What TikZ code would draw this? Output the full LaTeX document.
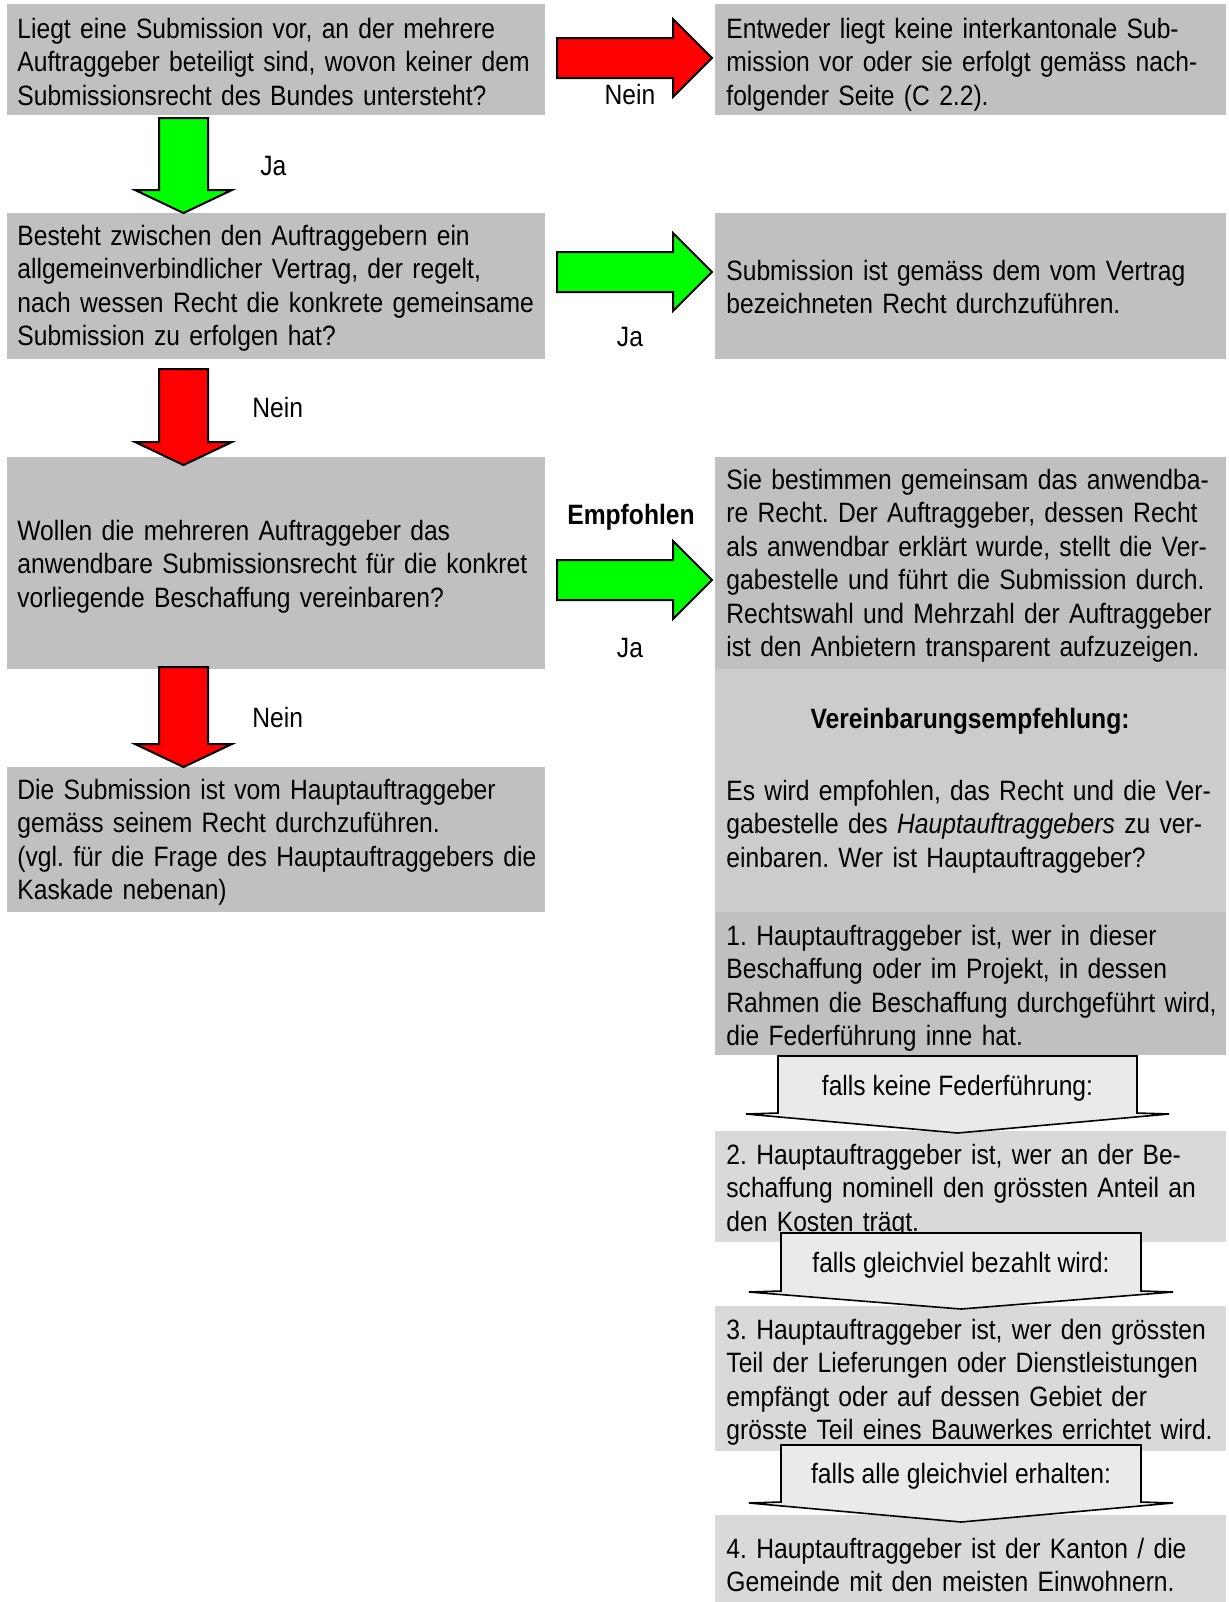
\documentclass[tikz,border=0pt]{standalone}
\usepackage{fontspec}
\setmainfont{Liberation Sans}[FakeStretch=0.88]
\usetikzlibrary{fit}
\definecolor{gA}{HTML}{C0C0C0}
\definecolor{gB}{HTML}{CCCCCC}
\definecolor{gC}{HTML}{D9D9D9}
\definecolor{gL}{HTML}{EAEAEA}
\definecolor{aR}{HTML}{FF0000}
\definecolor{aG}{HTML}{00FF00}
\newcommand\fsz{\fontsize{14}{16.75}\selectfont\frenchspacing}
\newcommand\rarrow[3]{% x0, yc, colour
  \draw[blockarrow, fill=#3] (#1,#2-20) -- (#1+116,#2-20) -- (#1+116,#2-39) -- (#1+155,#2)
    -- (#1+116,#2+39) -- (#1+116,#2+20) -- (#1,#2+20) -- cycle;}
\newcommand\darrow[4]{% xc, ytop, ytip, colour
  \draw[blockarrow, fill=#4] (#1-24.5,#2) -- (#1+24.5,#2) -- (#1+24.5,#3-23) -- (#1+48.5,#3-23)
    -- (#1,#3) -- (#1-48.5,#3-23) -- (#1-24.5,#3-23) -- cycle;}
\newcommand\carrow[8]{% name, xl, xr, ytop, ywing, ytip, text, baseline
  \draw[cascade] (#2,#4) -- (#2,#5) -- (#2-32,#5+1) -- ({(#2+#3)/2},#6) -- (#3+32,#5+1) -- (#3,#5) -- (#3,#4) -- cycle;
  \node[lbl, anchor=base] (#1) at ({(#2+#3)/2},#8) {#7};}
\begin{document}
\begin{tikzpicture}[x=0.5pt,y=-0.5pt,
  box/.style={draw=none, inner sep=0pt, outer sep=0pt},
  txt/.style={anchor=base west, inner sep=0pt, text width=310pt, align=left, font=\fsz},
  lbl/.style={inner sep=0pt, font=\fsz},
  blockarrow/.style={draw=black, line width=1pt, line join=miter},
  cascade/.style={draw=black, line width=0.8pt, fill=gL, line join=miter}]
\useasboundingbox[fill=white] (0,0) rectangle (1229,1602);
% left column boxes
\node[box, fill=gA, fit={(7,4)(545,115)}] (A) {};
\node[box, fill=gA, fit={(7,213)(545,359)}] (C) {};
\node[box, fill=gA, fit={(7,457)(545,669)}] (E) {};
\node[box, fill=gA, fit={(7,767)(545,912)}] (L) {};
% right column boxes
\node[box, fill=gA, fit={(715,4)(1226,115)}] (B) {};
\node[box, fill=gA, fit={(715,213)(1226,359)}] (D) {};
\node[box, fill=gA, fit={(715,457)(1226,669)}] (F) {};
\node[box, fill=gB, fit={(715,669)(1226,912)}] (G) {};
\node[box, fill=gA, fit={(715,912)(1226,1055)}] (H) {};
\node[box, fill=gC, fit={(715,1131)(1226,1242)}] (I) {};
\node[box, fill=gC, fit={(715,1306)(1226,1451)}] (J) {};
\node[box, fill=gC, fit={(715,1515)(1226,1602)}] (K) {};
% texts
\node[txt] (At) at (17,38) {Liegt eine Submission vor, an der mehrere\\Auftraggeber beteiligt sind, wovon keiner dem\\Submissionsrecht des Bundes untersteht?};
\node[txt] (Bt) at (726,38) {Entweder liegt keine interkantonale Sub-\\mission vor oder sie erfolgt gemäss nach-\\folgender Seite (C 2.2).};
\node[txt] (Ct) at (17,245) {Besteht zwischen den Auftraggebern ein\\allgemeinverbindlicher Vertrag, der regelt,\\nach wessen Recht die konkrete gemeinsame\\Submission zu erfolgen hat?};
\node[txt] (Dt) at (726,280) {Submission ist gemäss dem vom Vertrag\\bezeichneten Recht durchzuführen.};
\node[txt] (Et) at (17,540) {Wollen die mehreren Auftraggeber das\\anwendbare Submissionsrecht für die konkret\\vorliegende Beschaffung vereinbaren?};
\node[txt] (Ft) at (726,489) {Sie bestimmen gemeinsam das anwendba-\\re Recht. Der Auftraggeber, dessen Recht\\als anwendbar erklärt wurde, stellt die Ver-\\gabestelle und führt die Submission durch.\\Rechtswahl und Mehrzahl der Auftraggeber\\ist den Anbietern transparent aufzuzeigen.};
\node[lbl, anchor=base, font=\fsz\bfseries] (Gh) at (970,728) {Vereinbarungsempfehlung:};
\node[txt] (Gt) at (726,800) {Es wird empfohlen, das Recht und die Ver-\\gabestelle des \textit{Hauptauftraggebers} zu ver-\\einbaren. Wer ist Hauptauftraggeber?};
\node[txt] (Ht) at (726,945) {1. Hauptauftraggeber ist, wer in dieser\\Beschaffung oder im Projekt, in dessen\\Rahmen die Beschaffung durchgeführt wird,\\die Federführung inne hat.};
\node[txt] (It) at (726,1164) {2. Hauptauftraggeber ist, wer an der Be-\\schaffung nominell den grössten Anteil an\\den Kosten trägt.};
\node[txt] (Jt) at (726,1339) {3. Hauptauftraggeber ist, wer den grössten\\Teil der Lieferungen oder Dienstleistungen\\empfängt oder auf dessen Gebiet der\\grösste Teil eines Bauwerkes errichtet wird.};
\node[txt] (Kt) at (726,1558) {4. Hauptauftraggeber ist der Kanton / die\\Gemeinde mit den meisten Einwohnern.};
\node[txt] (Lt) at (17,799) {Die Submission ist vom Hauptauftraggeber\\gemäss seinem Recht durchzuführen.\\(vgl. für die Frage des Hauptauftraggebers die\\Kaskade nebenan)};
% horizontal arrows
\rarrow{557}{58}{aR}
\rarrow{557}{272}{aG}
\rarrow{557}{580}{aG}
\node[lbl, anchor=base] (n1) at (630,104) {Nein};
\node[lbl, anchor=base] (j2) at (630,346) {Ja};
\node[lbl, anchor=base, font=\fsz\bfseries] (emp) at (631,524) {Empfohlen};
\node[lbl, anchor=base] (j3) at (630,657) {Ja};
% vertical arrows
\darrow{183.5}{118}{213}{aG}
\darrow{183.5}{369}{465}{aR}
\darrow{183.5}{667}{767}{aR}
\node[lbl, anchor=base west] (j1) at (260,175) {Ja};
\node[lbl, anchor=base west] (n2) at (252,417) {Nein};
\node[lbl, anchor=base west] (n3) at (252,727) {Nein};
% cascade arrows
\carrow{c1}{778}{1137}{1056}{1113}{1133}{falls keine Federführung:}{1095}
\carrow{c2}{781}{1141}{1233}{1291}{1309}{falls gleichviel bezahlt wird:}{1272}
\carrow{c3}{781}{1141}{1445}{1502}{1522}{falls alle gleichviel erhalten:}{1483}
\end{tikzpicture}
\end{document}
